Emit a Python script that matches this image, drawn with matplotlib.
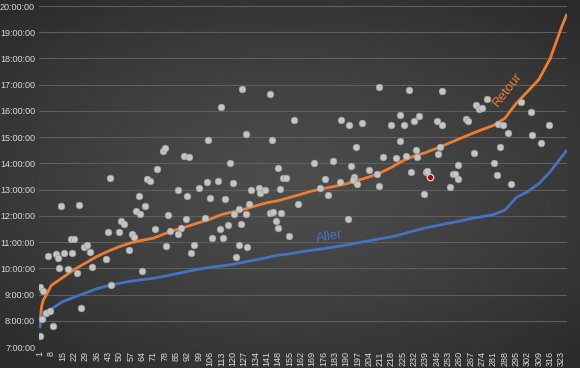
import numpy as np
import matplotlib
matplotlib.use("Agg")
import matplotlib.pyplot as plt
from matplotlib.ticker import FixedLocator, FuncFormatter

# === DATA (hours as decimals, x = trip index) ===
n_points = 326
line_idx = [1, 2, 3, 5, 8, 15, 22, 29, 36, 43, 50, 57, 64, 71, 78, 85, 92, 99, 106,
            113, 120, 127, 134, 141, 148, 155, 162, 169, 176, 183, 190, 197, 204,
            211, 218, 225, 232, 239, 246, 253, 260, 267, 274, 281, 288, 295, 302,
            309, 316, 323, 326]
retour = [7.95, 8.55, 8.78, 9.0, 9.35, 9.65, 9.95, 10.2, 10.45, 10.65, 10.83, 10.97,
          11.07, 11.15, 11.32, 11.47, 11.6, 11.74, 11.87, 12.05, 12.15, 12.25, 12.38,
          12.5, 12.58, 12.7, 12.82, 12.95, 13.04, 13.13, 13.22, 13.35, 13.48, 13.64,
          13.85, 14.1, 14.28, 14.41, 14.58, 14.76, 14.94, 15.12, 15.29, 15.45, 15.72,
          16.29, 16.74, 17.2, 18.0, 19.2, 19.65]
aller = [7.77, 8.15, 8.3, 8.38, 8.45, 8.73, 8.9, 9.06, 9.22, 9.34, 9.43, 9.51, 9.57,
         9.62, 9.7, 9.79, 9.88, 9.97, 10.04, 10.09, 10.15, 10.24, 10.32, 10.41, 10.5,
         10.55, 10.63, 10.69, 10.75, 10.82, 10.89, 10.97, 11.05, 11.13, 11.2, 11.31,
         11.43, 11.54, 11.63, 11.72, 11.8, 11.9, 11.97, 12.05, 12.22, 12.7, 12.92,
         13.23, 13.68, 14.25, 14.47]

dots_x = [105, 77, 78, 90, 93, 73, 44, 67, 69, 104, 86, 99, 92, 106, 62, 14, 25, 66,
          60, 63, 80,
          126, 143, 210, 113, 158, 187, 192, 200, 218, 128, 144, 196, 213, 118, 170,
          182, 193, 148, 204, 111, 120, 151, 153, 177, 195, 209, 186, 194, 197, 131,
          136, 137, 140, 149, 174, 210, 179, 115, 130, 160, 124, 121, 128, 143, 145,
          150,
          229, 249, 277, 270, 272, 274, 298, 304, 223, 235, 232, 226, 246, 249, 264,
          265, 284, 287, 315, 290, 305, 310, 223, 248, 285, 233, 269, 247, 221, 227,
          234, 281, 259, 230, 239, 240, 256, 257, 259, 283, 254, 292, 238,
          1, 3, 2, 5, 7, 9, 1, 26, 6, 11, 12, 16, 21, 20, 22, 28, 30, 32, 13, 18, 24,
          33, 42, 43, 50, 51, 53, 58, 59, 56, 45, 64, 72, 81, 86, 88, 91, 79, 96, 94,
          107, 103,
          112, 117, 125, 114, 147, 148, 155, 124, 129, 122, 191]
dots_y = [14.91, 14.48, 14.59, 14.27, 14.24, 13.77, 13.46, 13.41, 13.33, 13.29, 12.99,
          13.06, 12.75, 12.70, 12.75, 12.38, 12.40, 12.37, 12.19, 12.07, 12.02,
          16.83, 16.65, 16.91, 16.16, 15.66, 15.66, 15.46, 15.55, 15.46, 15.13, 14.89,
          14.62, 14.26, 14.01, 14.03, 14.08, 13.89, 13.82, 13.75, 13.33, 13.26, 13.43,
          13.43, 13.39, 13.50, 13.60, 13.31, 13.35, 13.22, 12.98, 13.06, 12.89, 12.99,
          13.01, 13.08, 13.12, 12.81, 12.64, 12.45, 12.47, 12.25, 12.09, 12.09, 12.11,
          12.16, 12.11,
          16.81, 16.76, 16.45, 16.23, 16.07, 16.11, 16.34, 15.95, 15.83, 15.80, 15.60,
          15.48, 15.61, 15.48, 15.70, 15.60, 15.50, 15.46, 15.46, 15.15, 15.10, 14.78,
          14.84, 14.62, 14.62, 14.51, 14.38, 14.34, 14.20, 14.27, 14.24, 14.01, 13.94,
          13.69, 13.66, 13.71, 13.60, 13.59, 13.41, 13.55, 13.09, 13.22, 12.82,
          9.30, 9.12, 8.05, 8.28, 8.37, 7.82, 7.42, 8.48, 10.48, 10.53, 10.41, 10.57,
          10.57, 11.13, 11.12, 10.81, 10.89, 10.61, 10.03, 9.96, 9.84, 10.06, 10.37,
          11.39, 11.40, 11.82, 11.68, 11.29, 11.21, 10.71, 9.35, 9.91, 11.51, 11.44,
          11.32, 11.53, 11.88, 10.85, 10.89, 10.58, 11.14, 11.90,
          11.51, 11.64, 11.68, 11.17, 11.79, 11.55, 11.25, 10.88, 10.83, 10.43, 11.87]
red_x = [242]
red_y = [13.50]

tick_cats = list(range(1, n_points + 1, 7))

# === FIGURE ===
fig = plt.figure(figsize=(5.8, 3.68), dpi=100)

# radial dark background
bg = fig.add_axes([0, 0, 1, 1], zorder=-1)
gx, gy = np.meshgrid(np.linspace(-1, 1, 580), np.linspace(-1, 1, 368))
r = np.sqrt((gx * 0.95) ** 2 + (gy * 1.05) ** 2)
shade = 0.30 - 0.13 * np.clip(r / 1.35, 0, 1) ** 1.3
bg.imshow(np.dstack([shade] * 3), aspect="auto", extent=[0, 1, 0, 1])
bg.axis("off")

ax = fig.add_axes([0.0676, 0.057, 0.9104, 0.9266])
ax.patch.set_alpha(0)

for h in range(7, 21):
    ax.axhline(h, color="#5e5e5e", lw=0.8, zorder=1)

ax.plot(line_idx, retour, color="#ED7D31", lw=2.0, zorder=2, solid_joinstyle="round")
ax.plot(line_idx, aller, color="#4472C4", lw=2.0, zorder=2, solid_joinstyle="round")

ax.scatter(dots_x, dots_y, s=24, color="#c4c4c4", edgecolors="#9a9a9a",
           linewidths=0.4, zorder=3)
ax.scatter(red_x, red_y, s=22, color="#c00000", edgecolors="#d8d8d8",
           linewidths=0.9, zorder=4)

ax.text(290, 16.8, "Retour", color="#ED7D31", fontsize=9.5, rotation=52,
        ha="center", va="center", family="Liberation Sans")
ax.text(180, 11.22, "Aller", color="#4472C4", fontsize=9.5, rotation=10,
        ha="center", va="center", family="Liberation Sans")

ax.set_xlim(0.5, n_points + 0.5)
ax.set_ylim(7, 20)
ax.yaxis.set_major_locator(FixedLocator(list(range(7, 21))))
ax.yaxis.set_major_formatter(FuncFormatter(lambda v, p: f"{int(v)}:00:00"))
ax.set_xticks(tick_cats)
ax.set_xticklabels([str(c) for c in tick_cats], rotation=90)
ax.tick_params(axis="both", length=0, colors="#d9d9d9", labelsize=6.5)
ax.tick_params(axis="y", pad=3)
ax.tick_params(axis="x", pad=3)
for lbl in ax.get_xticklabels() + ax.get_yticklabels():
    lbl.set_family("Liberation Sans")
for s in ax.spines.values():
    s.set_visible(False)

fig.savefig("out.png", dpi=100)
